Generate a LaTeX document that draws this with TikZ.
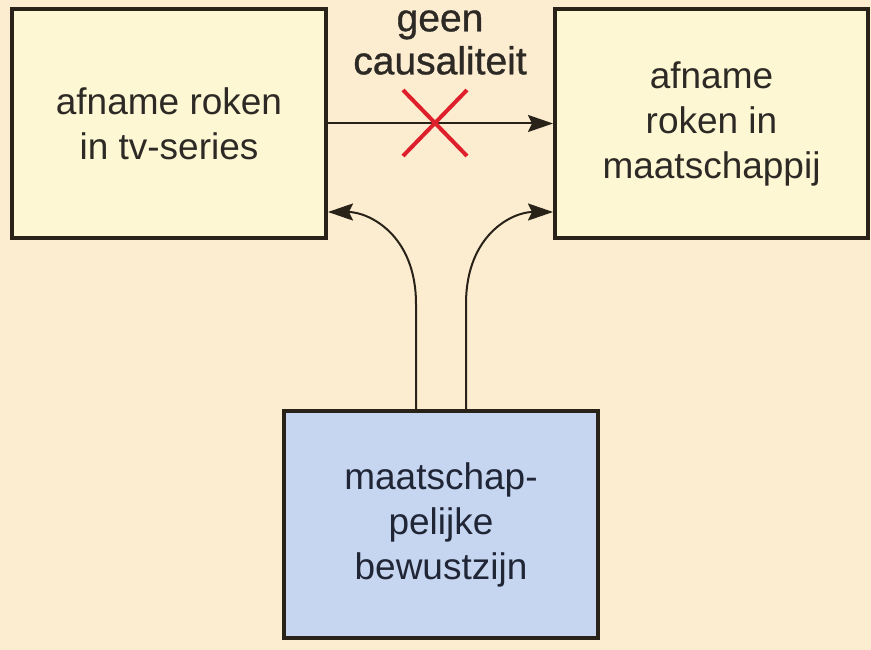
\documentclass[tikz,border=0pt]{standalone}
\usepackage{fontspec}
\setmainfont{Liberation Sans}
\newfontfamily\captionface[FakeBold=0.9]{Liberation Sans}
\usetikzlibrary{arrows.meta,calc}

\definecolor{bgpeach}{RGB}{252,236,208}
\definecolor{boxcream}{RGB}{254,247,212}
\definecolor{boxblue}{RGB}{198,214,240}
\definecolor{edgedark}{RGB}{40,34,24}
\definecolor{txtdark}{RGB}{45,42,38}
\definecolor{txtnavy}{RGB}{32,38,54}
\definecolor{crossred}{RGB}{222,32,44}

\tikzset{
  panel/.style={draw=edgedark, line width=4pt, inner sep=0pt,
    minimum width=314pt, minimum height=229pt, align=center,
    font=\fontsize{37}{45}\selectfont, text=txtdark},
  creampanel/.style={panel, fill=boxcream},
  bluepanel/.style={panel, fill=boxblue, minimum height=227pt, text=txtnavy},
  link/.style={draw=edgedark, line width=2pt,
    -{Stealth[length=25pt,width=17pt,inset=4pt]}},
  crossbar/.style={draw=crossred, line width=4pt},
  caption/.style={align=center, inner sep=0pt,
    font=\captionface\fontsize{39}{43}\selectfont, text=txtdark}
}

\begin{document}
\begin{tikzpicture}[x=1pt,y=-1pt]
  % background and page size
  \fill[bgpeach] (0,0) rectangle (871,650);
  \useasboundingbox (0,0) rectangle (871,650);

  % boxes
  \node[creampanel] (tv) at (169,123.5) {afname roken\\in tv-series};
  \node[creampanel, minimum width=313pt] (soc) at (711.5,123.5) {afname\\roken in\\maatschappij};
  \node[bluepanel] (aware) at (441,524.5) {maatschap-\\pelijke\\bewustzijn};

  % direct link, crossed out
  \draw[link] (tv.east) -- (soc.west);
  \node[caption] (lbl) at (440,42.5) {geen\\causaliteit};
  \coordinate (xmid) at (435,123);
  \draw[crossbar] ($(xmid)+(-32,-33)$) -- ($(xmid)+(32,33)$);
  \draw[crossbar] ($(xmid)+(-32,33)$) -- ($(xmid)+(32,-33)$);

  % common cause arrows
  \draw[link] ([xshift=-25pt]aware.north) -- ++(0,-105)
    .. controls ++(0,-70) and ++(40,0) .. ([yshift=-88.5pt]tv.east);
  \draw[link] ([xshift=25pt]aware.north) -- ++(0,-105)
    .. controls ++(0,-70) and ++(-40,0) .. ([yshift=-88.5pt]soc.west);
\end{tikzpicture}
\end{document}
